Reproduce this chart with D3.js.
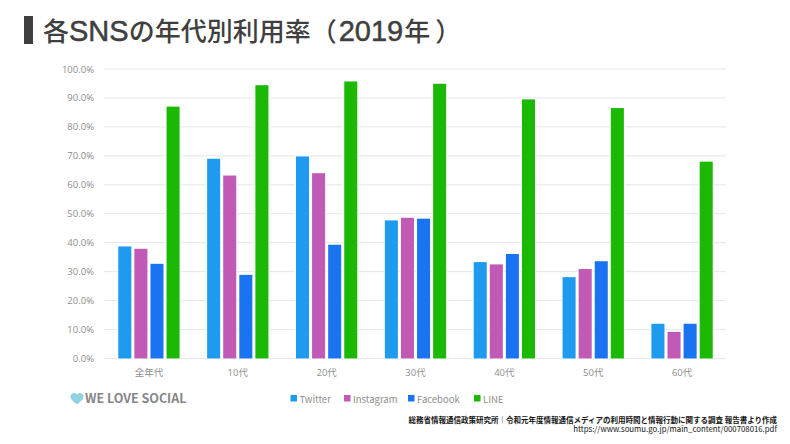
<!DOCTYPE html>
<html>
<head>
<meta charset="utf-8">
<script src="https://cdn.jsdelivr.net/npm/d3@7"></script>
<style>
  html, body { margin: 0; padding: 0; background: #fff; }
  svg { display: block; }
  text { font-family: "Noto Sans CJK JP", "Noto Sans", sans-serif; }
  .axis path, .axis line { display: none; }
  .axis text { font-family: "Open Sans", "Noto Sans CJK JP", sans-serif; font-size: 9.5px; fill: #8e8e8e; }
  .bar { stroke: #fff; stroke-width: 2; paint-order: stroke; }
</style>
</head>
<body>
<div id="chart"></div>
<script>
var categories = ["全年代", "10代", "20代", "30代", "40代", "50代", "60代"];
var seriesNames = ["Twitter", "Instagram", "Facebook", "LINE"];
var twitter = [38.7, 69.0, 69.8, 47.7, 33.3, 28.1, 12.0];
var instagram = [37.9, 63.2, 64.0, 48.6, 32.5, 30.9, 9.2];
var facebook = [32.7, 28.9, 39.3, 48.3, 36.1, 33.6, 12.0];
var line = [87.0, 94.4, 95.7, 94.9, 89.5, 86.5, 68.0];
var yTicks = [0, 10, 20, 30, 40, 50, 60, 70, 80, 90, 100];
var colors = ["#1e9bee", "#c05ab5", "#1a73f0", "#1bb804"];

var values = [twitter, instagram, facebook, line];

var svg = d3.select("#chart")
  .append("svg")
  .attr("width", 790)
  .attr("height", 444);

// title
svg.append("rect")
  .attr("x", 24).attr("y", 16)
  .attr("width", 9).attr("height", 28)
  .attr("fill", "#3f3f3f");

// latin parts are wider in the original, so they get their own font
var titleParts = ["各", "SNS", "の年代別利用率（", "2019", "年", "）"];
var titleDx = [0, 0, 0, 2, 1, 5];

svg.append("text")
  .attr("x", 43).attr("y", 41)
  .attr("font-size", 26)
  .attr("font-weight", 500)
  .attr("fill", "#3f3f3f")
  .selectAll("tspan")
  .data(titleParts)
  .enter()
  .append("tspan")
  .attr("dx", function (d, i) { return titleDx[i]; })
  .attr("font-family", function (d, i) { return i % 2 && i < 4 ? "Liberation Sans" : null; })
  .attr("font-size", function (d, i) { return i % 2 && i < 4 ? 29 : null; })
  .attr("stroke", function (d, i) { return i % 2 && i < 4 ? "#3f3f3f" : null; })
  .attr("stroke-width", function (d, i) { return i % 2 && i < 4 ? 0.5 : null; })
  .text(function (d) { return d; });

var x0 = d3.scaleBand()
  .domain(categories)
  .range([104.5, 726.5])
  .paddingInner(0.31)
  .paddingOuter(0.155);

var x1 = d3.scaleBand()
  .domain(seriesNames)
  .range([0, x0.bandwidth()])
  .paddingInner(0.19);

var y = d3.scaleLinear()
  .domain([0, 100])
  .range([358.5, 69]);

var color = d3.scaleOrdinal()
  .domain(seriesNames)
  .range(colors);

// grid
svg.append("g")
  .selectAll("line")
  .data(yTicks)
  .enter()
  .append("line")
  .attr("x1", 104)
  .attr("x2", 726)
  .attr("y1", function (d) { return y(d); })
  .attr("y2", function (d) { return y(d); })
  .attr("stroke", "#e6e6e6")
  .attr("stroke-width", 1);

svg.append("g")
  .attr("class", "axis")
  .attr("transform", "translate(104,0)")
  .call(d3.axisLeft(y).tickValues(yTicks).tickSize(0).tickPadding(10)
    .tickFormat(function (d) { return d.toFixed(1) + "%"; }));

svg.append("g")
  .attr("class", "axis")
  .attr("transform", "translate(0,358.5)")
  .call(d3.axisBottom(x0).tickSize(0).tickPadding(11));

// bars
seriesNames.forEach(function (name, s) {
  svg.append("g")
    .selectAll("rect")
    .data(values[s])
    .enter()
    .append("rect")
    .attr("class", "bar")
    .attr("x", function (d, i) { return x0(categories[i]) + x1(name); })
    .attr("y", function (d) { return y(d); })
    .attr("width", x1.bandwidth())
    .attr("height", function (d) { return y(0) - y(d); })
    .attr("fill", color(name));
});

// legend
var legendX = [290.5, 344, 408, 474];
var legendItems = svg.append("g")
  .selectAll("g")
  .data(seriesNames)
  .enter()
  .append("g")
  .attr("transform", function (d, i) { return "translate(" + legendX[i] + ",395)"; });

legendItems.append("rect")
  .attr("width", 6.5)
  .attr("height", 6.5)
  .attr("fill", color);

legendItems.append("text")
  .attr("x", 9)
  .attr("y", 7.5)
  .attr("font-family", "Open Sans")
  .attr("font-size", 9.5)
  .attr("fill", "#8e8e8e")
  .text(function (d) { return d; });

// logo
svg.append("path")
  .attr("d", "M77 404.5 C73 401 70.5 399.5 70.5 396.8 C70.5 392.5 75.5 392 77 394.5 C78.5 392 83.5 392.5 83.5 396.8 C83.5 399.5 81 401 77 404.5 Z")
  .attr("fill", "#8fd3e0");

svg.append("text")
  .attr("x", 85).attr("y", 402.5)
  .attr("font-family", "Lato")
  .attr("font-size", 12.5)
  .attr("font-weight", 700)
  .attr("fill", "#85858a")
  .text("WE LOVE SOCIAL");

// source
svg.append("text")
  .attr("x", 777).attr("y", 422.5)
  .attr("text-anchor", "end")
  .attr("font-size", 7.5)
  .attr("font-weight", 700)
  .attr("fill", "#111")
  .text("総務省情報通信政策研究所｜令和元年度情報通信メディアの利用時間と情報行動に関する調査 報告書より作成");

svg.append("text")
  .attr("x", 777).attr("y", 432)
  .attr("text-anchor", "end")
  .attr("font-family", "Liberation Sans")
  .attr("font-size", 7.8)
  .attr("fill", "#111")
  .text("https://www.soumu.go.jp/main_content/000708016.pdf");
</script>
</body>
</html>
